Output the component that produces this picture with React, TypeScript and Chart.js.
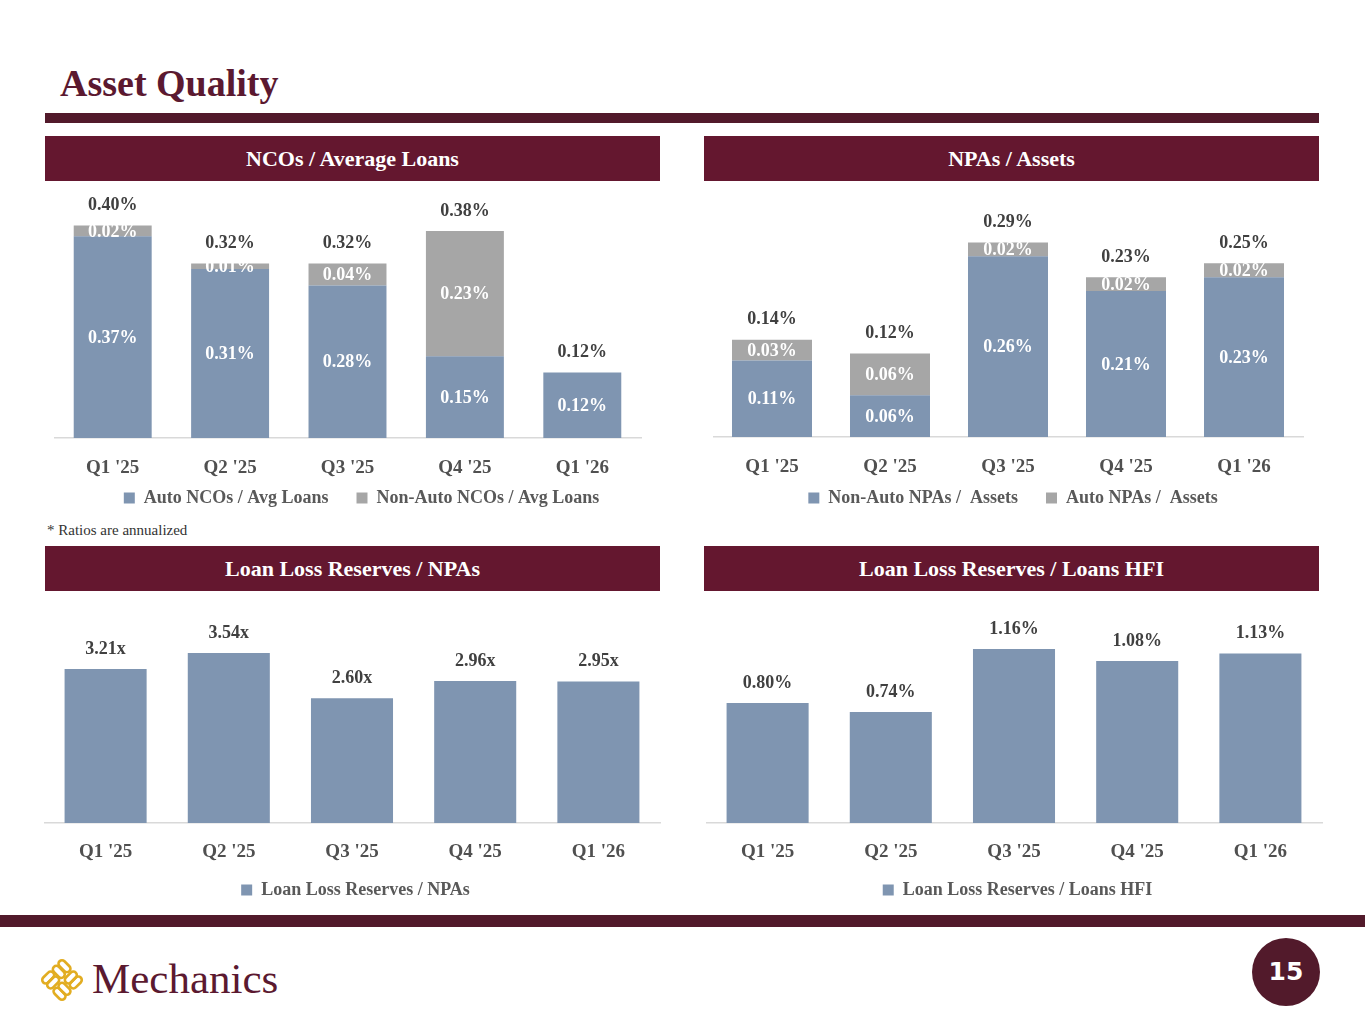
import React, { useEffect, useRef } from "react";
import { Chart, registerables } from "chart.js";
Chart.register(...registerables);

// ---------- data ----------
const quarters = ["Q1 '25", "Q2 '25", "Q3 '25", "Q4 '25", "Q1 '26"];

const autoNCO = [0.37, 0.31, 0.28, 0.15, 0.12];
const nonAutoNCO = [0.02, 0.01, 0.04, 0.23, 0];
const ncoTotals = ["0.40%", "0.32%", "0.32%", "0.38%", "0.12%"];

const nonAutoNPA = [0.11, 0.06, 0.26, 0.21, 0.23];
const autoNPA = [0.03, 0.06, 0.02, 0.02, 0.02];
const npaTotals = ["0.14%", "0.12%", "0.29%", "0.23%", "0.25%"];

const llrToNPA = [3.21, 3.54, 2.6, 2.96, 2.95];
const llrToHFI = [0.8, 0.74, 1.16, 1.08, 1.13];

// ---------- style ----------
const FONT = "'Liberation Serif', 'Times New Roman', serif";
const MAROON = "#64172f";
const DARK_MAROON = "#521a2b";
const BLUE = "#7f95b1";
const GRAY = "#a6a6a6";
const AXIS = "#d9d9d9";
const TICK = "#505050";
const LEGEND = "#595959";
const VALUE = "#404040";

type LabelOpts = {
  segments: boolean;
  totals?: string[];
  fmt: (v: number) => string;
};

function labelPlugin(o: LabelOpts) {
  return {
    id: "valueLabels",
    afterDatasetsDraw(chart: any) {
      const ctx = chart.ctx;
      ctx.save();
      ctx.font = `bold 18px ${FONT}`;
      ctx.textAlign = "center";
      ctx.textBaseline = "middle";
      const n = chart.data.labels.length;
      const tops: number[] = new Array(n).fill(Infinity);
      const xs: number[] = new Array(n).fill(0);
      chart.data.datasets.forEach((ds: any, di: number) => {
        const meta = chart.getDatasetMeta(di);
        meta.data.forEach((bar: any, i: number) => {
          const v = ds.data[i];
          const p = bar.getProps(["x", "y", "base"], true);
          xs[i] = p.x;
          if (v > 0) tops[i] = Math.min(tops[i], p.y);
          if (o.segments && v > 0) {
            ctx.fillStyle = "#ffffff";
            ctx.fillText(o.fmt(v), p.x, (p.y + p.base) / 2 + 1);
          }
        });
      });
      ctx.fillStyle = VALUE;
      for (let i = 0; i < n; i++) {
        const text = o.totals ? o.totals[i] : o.fmt(chart.data.datasets[0].data[i]);
        ctx.fillText(text, xs[i], tops[i] - 20);
      }
      ctx.restore();
    },
  };
}

type ChartSpec = {
  left: number;
  top: number;
  width: number;
  height: number;
  datasets: any[];
  yMax: number;
  stacked: boolean;
  barPct: number;
  tickPad: number;
  axisH: number;
  itemGap: string;
  spacer: number;
  labels: LabelOpts;
};

function ChartBox(s: ChartSpec) {
  const ref = useRef<HTMLCanvasElement>(null);
  useEffect(() => {
    const chart = new Chart(ref.current as HTMLCanvasElement, {
      type: "bar",
      data: {
        labels: quarters,
        datasets: s.datasets.map((d) => ({
          ...d,
          barPercentage: s.barPct,
          categoryPercentage: 1,
          borderWidth: 0,
        })),
      },
      options: {
        responsive: false,
        animation: false,
        layout: { padding: 0 },
        plugins: {
          legend: {
            display: true,
            position: "bottom",
            labels: {
              boxWidth: 11,
              boxHeight: 11,
              padding: 10,
              color: LEGEND,
              font: { family: FONT, size: 18, weight: "bold" },
              generateLabels: (c: any) => {
                const items = (Chart.defaults.plugins.legend.labels as any).generateLabels(c);
                items.forEach((it: any, i: number) => {
                  if (i < items.length - 1) it.text = it.text + s.itemGap;
                });
                return items;
              },
            },
          },
          tooltip: { enabled: false },
        },
        scales: {
          x: {
            stacked: s.stacked,
            grid: { display: false, drawTicks: false },
            border: { display: true, color: AXIS, width: 1.5 },
            ticks: {
              padding: s.tickPad,
              color: TICK,
              font: { family: FONT, size: 19, weight: "bold" },
            },
            afterFit: (sc: any) => {
              sc.height = s.axisH;
            },
          },
          y: {
            stacked: s.stacked,
            position: "right",
            min: 0,
            max: s.yMax,
            display: true,
            grid: { display: false, drawTicks: false },
            border: { display: false },
            ticks: { display: false },
            afterFit: (sc: any) => {
              sc.width = s.spacer;
            },
          },
        },
      } as any,
      plugins: [labelPlugin(s.labels)],
    });
    return () => chart.destroy();
  }, []);
  return (
    <div style={{ position: "absolute", left: s.left, top: s.top, width: s.width, height: s.height }}>
      <canvas ref={ref} width={s.width} height={s.height} style={{ width: s.width, height: s.height, display: "block" }} />
    </div>
  );
}

function Header({ left, top, text }: { left: number; top: number; text: string }) {
  return (
    <div
      style={{
        position: "absolute",
        left,
        top,
        width: 615,
        height: 45,
        background: MAROON,
        color: "#ffffff",
        fontFamily: FONT,
        fontWeight: "bold",
        fontSize: 22,
        lineHeight: "45px",
        textAlign: "center",
      }}
    >
      {text}
    </div>
  );
}

function Logo() {
  const gold = "#e2ad22";
  return (
    <svg width={46} height={46} viewBox="-23 -23 46 46" style={{ position: "absolute", left: 39, top: 957 }}>
      <g transform="rotate(45)" fill="none" stroke={gold} strokeWidth={2.6}>
        <rect x={-15} y={-15} width={14} height={7} rx={3.5} />
        <rect x={-15} y={-7} width={14} height={7} rx={3.5} />
        <rect x={1} y={-15} width={7} height={14} rx={3.5} />
        <rect x={8} y={-15} width={7} height={14} rx={3.5} />
        <rect x={-15} y={1} width={7} height={14} rx={3.5} />
        <rect x={-8} y={1} width={7} height={14} rx={3.5} />
        <rect x={1} y={1} width={14} height={7} rx={3.5} />
        <rect x={1} y={8} width={14} height={7} rx={3.5} />
      </g>
    </svg>
  );
}

export default function App() {
  const pct = (v: number) => v.toFixed(2) + "%";
  const times = (v: number) => v.toFixed(2) + "x";
  return (
    <div
      style={{
        position: "absolute",
        left: 0,
        top: 0,
        width: 1365,
        height: 1024,
        background: "#ffffff",
        overflow: "hidden",
        fontFamily: FONT,
      }}
    >
      <div
        style={{
          position: "absolute",
          left: 60,
          top: 60,
          fontSize: 38,
          fontWeight: "bold",
          color: "#5b1930",
          lineHeight: "46px",
        }}
      >
        Asset Quality
      </div>
      <div style={{ position: "absolute", left: 45, top: 113, width: 1274, height: 10, background: DARK_MAROON }} />

      <Header left={45} top={136} text="NCOs / Average Loans" />
      <Header left={704} top={136} text="NPAs / Assets" />
      <Header left={45} top={546} text="Loan Loss Reserves / NPAs" />
      <Header left={704} top={546} text="Loan Loss Reserves / Loans HFI" />

      <ChartBox
        left={54}
        top={190}
        width={615}
        height={327}
        yMax={0.455}
        stacked={true}
        barPct={0.664}
        tickPad={19}
        axisH={41}
        itemGap={"\u2002\u2002"}
        spacer={28}
        datasets={[
          { label: "Auto NCOs / Avg Loans", data: autoNCO, backgroundColor: BLUE },
          { label: "Non-Auto NCOs / Avg Loans", data: nonAutoNCO, backgroundColor: GRAY },
        ]}
        labels={{ segments: true, totals: ncoTotals, fmt: pct }}
      />
      <ChartBox
        left={713}
        top={190}
        width={600}
        height={327}
        yMax={0.3554}
        stacked={true}
        barPct={0.678}
        tickPad={19}
        axisH={42}
        itemGap={"\u2002\u2002"}
        spacer={10}
        datasets={[
          { label: "Non-Auto NPAs /  Assets", data: nonAutoNPA, backgroundColor: BLUE },
          { label: "Auto NPAs /  Assets", data: autoNPA, backgroundColor: GRAY },
        ]}
        labels={{ segments: true, totals: npaTotals, fmt: pct }}
      />

      <div style={{ position: "absolute", left: 47, top: 520, fontSize: 15, color: "#333333", lineHeight: "20px" }}>
        * Ratios are annualized
      </div>

      <ChartBox
        left={44}
        top={600}
        width={623}
        height={309}
        yMax={4.646}
        stacked={false}
        barPct={0.666}
        tickPad={18}
        axisH={48}
        itemGap={""}
        spacer={7}
        datasets={[{ label: "Loan Loss Reserves / NPAs", data: llrToNPA, backgroundColor: BLUE }]}
        labels={{ segments: false, fmt: times }}
      />
      <ChartBox
        left={706}
        top={600}
        width={623}
        height={309}
        yMax={1.487}
        stacked={false}
        barPct={0.666}
        tickPad={18}
        axisH={48}
        itemGap={""}
        spacer={7}
        datasets={[{ label: "Loan Loss Reserves / Loans HFI", data: llrToHFI, backgroundColor: BLUE }]}
        labels={{ segments: false, fmt: pct }}
      />

      <div style={{ position: "absolute", left: 0, top: 915, width: 1365, height: 12, background: DARK_MAROON }} />
      <Logo />
      <div
        style={{
          position: "absolute",
          left: 92,
          top: 953,
          fontSize: 43,
          color: "#5b1930",
          lineHeight: "52px",
        }}
      >
        Mechanics
      </div>
      <div
        style={{
          position: "absolute",
          left: 1252,
          top: 938,
          width: 68,
          height: 68,
          borderRadius: 34,
          background: DARK_MAROON,
          color: "#ffffff",
          fontFamily: "'DejaVu Sans', sans-serif",
          fontWeight: "bold",
          fontSize: 25,
          lineHeight: "68px",
          textAlign: "center",
        }}
      >
        15
      </div>
    </div>
  );
}
